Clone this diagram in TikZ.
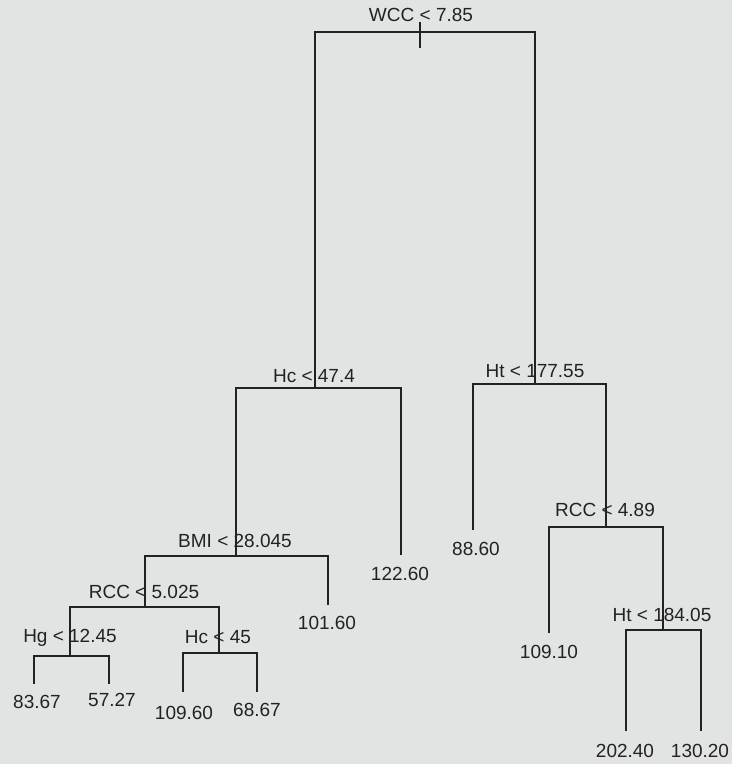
\documentclass[tikz,border=0pt]{standalone}
\usepackage{fontspec}
\setmainfont{Liberation Sans}
\definecolor{paper}{RGB}{226,228,228}
\definecolor{ink}{RGB}{34,34,34}
\begin{document}
\begin{tikzpicture}[x=1pt,y=-1pt,
  edge/.style={draw=ink,line width=1.8pt},
  lbl/.style={inner sep=0pt,anchor=center,text=ink,font=\fontsize{19}{22}\selectfont}]
\fill[paper] (0,0) rectangle (732,764);
\useasboundingbox (0,0) rectangle (732,764);
% split points (bar centres)
\coordinate (root) at (420,32);
\coordinate (hc47) at (315,388);
\coordinate (ht177) at (535,384);
\coordinate (bmi) at (236,556);
\coordinate (rcc5) at (145,607);
\coordinate (hg) at (70,656);
\coordinate (hc45) at (219,653);
\coordinate (rcc489) at (606,527);
\coordinate (ht184) at (663,630);
% leaf ends
\coordinate (l8367) at (34,684);
\coordinate (l5727) at (109,684);
\coordinate (l10960) at (183,692);
\coordinate (l6867) at (257,692);
\coordinate (l10160) at (328,605);
\coordinate (l12260) at (401,555);
\coordinate (l8860) at (473,530);
\coordinate (l10910) at (549,633);
\coordinate (l20240) at (626,731);
\coordinate (l13020) at (701,731);
% root tick
\coordinate (tickt) at (420,22);
\coordinate (tickb) at (420,48);
\draw[edge] (tickt) -- (tickb);
% connectors
\draw[edge] (hc47) |- (root) -| (ht177);
\draw[edge] (bmi) |- (hc47) -| (l12260);
\draw[edge] (rcc5) |- (bmi) -| (l10160);
\draw[edge] (hg) |- (rcc5) -| (hc45);
\draw[edge] (l8367) |- (hg) -| (l5727);
\draw[edge] (l10960) |- (hc45) -| (l6867);
\draw[edge] (l8860) |- (ht177) -| (rcc489);
\draw[edge] (l10910) |- (rcc489) -| (ht184);
\draw[edge] (l20240) |- (ht184) -| (l13020);
% split labels
\node[lbl] (troot) at (421,15) {WCC < 7.85};
\node[lbl] (thc47) at (314,376) {Hc < 47.4};
\node[lbl] (tht177) at (535,371) {Ht < 177.55};
\node[lbl] (tbmi) at (235,541) {BMI < 28.045};
\node[lbl] (trcc5) at (144,592) {RCC < 5.025};
\node[lbl] (thg) at (70,638) {Hg < 12.45};
\node[lbl] (thc45) at (218,637) {Hc < 45};
\node[lbl] (trcc489) at (605,510) {RCC < 4.89};
\node[lbl] (tht184) at (662,615) {Ht < 184.05};
% leaf labels
\node[lbl] (t8367) at (37,702) {83.67};
\node[lbl] (t5727) at (112,700) {57.27};
\node[lbl] (t10960) at (184,713) {109.60};
\node[lbl] (t6867) at (257,710) {68.67};
\node[lbl] (t10160) at (327,623) {101.60};
\node[lbl] (t12260) at (400,574) {122.60};
\node[lbl] (t8860) at (476,549) {88.60};
\node[lbl] (t10910) at (549,652) {109.10};
\node[lbl] (t20240) at (625,751) {202.40};
\node[lbl] (t13020) at (700,751) {130.20};
\end{tikzpicture}
\end{document}
